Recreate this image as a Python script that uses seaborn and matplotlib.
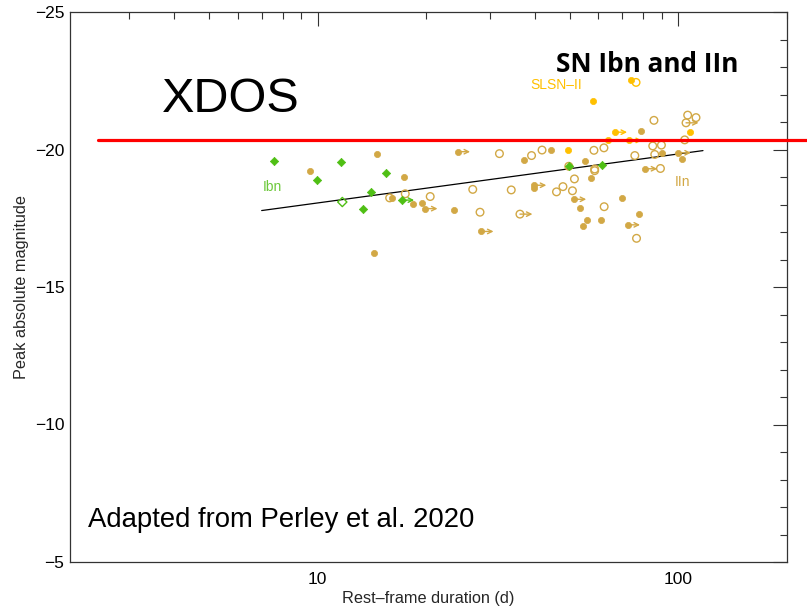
import numpy as np
import pandas as pd
import matplotlib
matplotlib.use("Agg")
import matplotlib.pyplot as plt
import seaborn as sns
from matplotlib.ticker import FixedLocator, NullFormatter, LogLocator
from matplotlib.transforms import offset_copy

# ---------------- data ----------------
# Ibn (green) filled diamonds
ibn_x = [7.57, 9.98, 11.63, 15.51, 14.10, 13.34, 17.10, 49.68, 61.47]
ibn_y = [-19.60, -18.89, -19.55, -19.13, -18.46, -17.84, -18.16, -19.40, -19.42]
ibn_arrow = [0, 0, 0, 0, 0, 0, 1, 0, 0]
# Ibn open diamonds
ibn_open_x = [11.71]
ibn_open_y = [-18.09]

# SLSN-II (yellow) filled circles
slsn_x = [73.94, 58.04, 107.9, 66.56, 63.67, 73.2, 49.43]
slsn_y = [-22.53, -21.75, -20.64, -20.63, -20.35, -20.33, -19.98]
slsn_arrow = [0, 0, 0, 1, 0, 1, 0]
# SLSN-II open circles
slsn_open_x = [76.33]
slsn_open_y = [-22.44]

# IIn (tan) filled circles
iin_x = [9.50, 14.60, 17.39, 16.04, 18.34, 19.45, 19.85, 14.32, 24.44, 23.83,
         28.38, 37.38, 44.49, 55.10, 39.75, 39.75, 57.24, 51.28, 53.35, 55.70,
         61.01, 54.25, 78.78, 90.16, 100.0, 102.6, 80.7, 69.72, 77.54, 72.29]
iin_y = [-19.21, -19.84, -18.99, -18.24, -18.01, -18.07, -17.85, -16.24, -19.92, -17.79,
         -17.02, -19.63, -19.97, -19.59, -18.70, -18.60, -18.96, -18.19, -17.88, -17.44,
         -17.44, -17.21, -20.66, -19.87, -19.88, -19.66, -19.30, -18.25, -17.65, -17.26]
iin_arrow = [0, 0, 0, 0, 0, 0, 1, 0, 1, 0,
             1, 0, 0, 0, 1, 0, 0, 1, 0, 0,
             0, 0, 0, 0, 1, 0, 1, 0, 0, 1]
# IIn open circles
iin_open_x = [15.84, 17.50, 20.52, 26.92, 28.20, 31.92, 34.42, 36.38, 39.18, 41.89,
              45.94, 47.87, 50.86, 51.51, 49.68, 58.34, 62.18, 58.61, 58.61, 62.27,
              85.56, 106.1, 111.9, 105.0, 104.1, 84.9, 89.74, 75.73, 86.00, 89.18, 76.56]
iin_open_y = [-18.24, -18.39, -18.29, -18.55, -17.72, -19.85, -18.53, -17.65, -19.78, -19.98,
              -18.46, -18.65, -18.50, -18.93, -19.39, -19.97, -20.06, -19.29, -19.23, -17.92,
              -21.06, -21.25, -21.16, -20.97, -20.35, -20.13, -20.16, -19.78, -19.82, -19.31, -16.77]
iin_open_arrow = [0, 0, 0, 0, 0, 0, 0, 1, 0, 0,
                  0, 0, 0, 0, 0, 0, 0, 0, 0, 0,
                  0, 0, 0, 1, 0, 0, 0, 0, 0, 0, 0]

# trend line
fit_x = [7.0, 117.0]
fit_y = [-17.78, -19.96]

# red threshold line
red_y = -20.33

x_major = [10, 100]
x_major_labels = ["10", "100"]
y_major = [-25, -20, -15, -10, -5]
y_major_labels = ["\u221225", "\u221220", "\u221215", "\u221210", "\u22125"]

GREEN = "#4fbf14"
TAN = "#d2a845"
YELLOW = "#ffc000"

# ---------------- figure ----------------
sns.set_style("white")
plt.rcParams["font.family"] = ["Liberation Sans", "DejaVu Sans"]

fig = plt.figure(figsize=(8.07, 6.06), dpi=100)
ax = fig.add_axes([70 / 807, 44 / 606, 717 / 807, 550 / 606])
ax.set_xscale("log")
ax.set_xlim(2.06, 200)
ax.set_ylim(-5, -25)

def scat(xs, ys, color, marker, filled, size):
    df = pd.DataFrame({"x": xs, "y": ys})
    if filled:
        sns.scatterplot(data=df, x="x", y="y", ax=ax, marker=marker, s=size,
                        color=color, edgecolor=color, linewidth=0.5, zorder=3)
    else:
        sns.scatterplot(data=df, x="x", y="y", ax=ax, marker=marker, s=size,
                        facecolors="none", edgecolor=color, linewidth=1.0, zorder=3)

scat(iin_open_x, iin_open_y, TAN, "o", False, 30)
scat(iin_x, iin_y, TAN, "o", True, 20)
scat(slsn_open_x, slsn_open_y, YELLOW, "o", False, 30)
scat(slsn_x, slsn_y, YELLOW, "o", True, 20)
scat(ibn_open_x, ibn_open_y, GREEN, "D", False, 22)
scat(ibn_x, ibn_y, GREEN, "D", True, 18)

# lower-limit arrows
trans = offset_copy(ax.transData, fig=fig, x=9, y=0, units="points")
def arrows(xs, ys, flags, color):
    for xv, yv, f in zip(xs, ys, flags):
        if f:
            ax.annotate("", xy=(xv, yv), xycoords=trans, xytext=(xv, yv), textcoords="data",
                        arrowprops=dict(arrowstyle="->", color=color, lw=1.0,
                                        shrinkA=0, shrinkB=0, mutation_scale=8), zorder=3)
arrows(iin_x, iin_y, iin_arrow, TAN)
arrows(iin_open_x, iin_open_y, iin_open_arrow, TAN)
arrows(slsn_x, slsn_y, slsn_arrow, YELLOW)
arrows(ibn_x, ibn_y, ibn_arrow, GREEN)

# trend line
sns.lineplot(x=fit_x, y=fit_y, ax=ax, color="black", lw=0.9, zorder=2)

# red line spanning beyond axes
ax.axhline(red_y, xmin=(98 - 70) / 717, xmax=(807 - 70) / 717, color="#ff0000",
           lw=2.3, clip_on=False, zorder=4)

# ticks
ax.xaxis.set_major_locator(FixedLocator(x_major))
ax.set_xticklabels(x_major_labels)
ax.xaxis.set_minor_locator(LogLocator(base=10, subs=np.arange(2, 10)))
ax.xaxis.set_minor_formatter(NullFormatter())
ax.yaxis.set_major_locator(FixedLocator(y_major))
ax.yaxis.set_minor_locator(FixedLocator(np.arange(-25, -4, 1)))
ax.set_yticklabels(y_major_labels)
ax.tick_params(which="both", direction="in", top=True, right=True, colors="#333333",
               labelcolor="black", labelsize=12.5)
ax.tick_params(axis="x", which="both", pad=7)
ax.tick_params(axis="y", which="both", pad=4)
ax.tick_params(which="major", length=10, width=0.8)
ax.tick_params(which="minor", length=5, width=0.8)
for s in ax.spines.values():
    s.set_color("#333333")
    s.set_linewidth(0.9)

ax.set_xlabel("Rest\u2013frame duration (d)", fontsize=11.7, labelpad=3)
ax.set_ylabel("Peak absolute magnitude", fontsize=11.7, labelpad=4)

# class labels
ax.text(7.51, -18.62, "Ibn", color="#6cc83a", fontsize=10, ha="center", va="center")
ax.text(46.0, -22.33, "SLSN\u2013II", color=YELLOW, fontsize=10, ha="center", va="center")
ax.text(102.6, -18.8, "IIn", color=TAN, fontsize=10, ha="center", va="center")

# annotations
ax.text(0.128, 0.818, "XDOS", transform=ax.transAxes, fontsize=35, ha="left",
        va="baseline", color="black")
ax.text(0.678, 0.891, "SN Ibn and IIn", transform=ax.transAxes, fontsize=18.8,
        fontweight="bold", family="Open Sans", ha="left", va="baseline", color="black")
ax.text(0.025, 0.0636, "Adapted from Perley et al. 2020", transform=ax.transAxes,
        fontsize=19.8, ha="left", va="baseline", color="black")

fig.savefig("out.png", dpi=100)
